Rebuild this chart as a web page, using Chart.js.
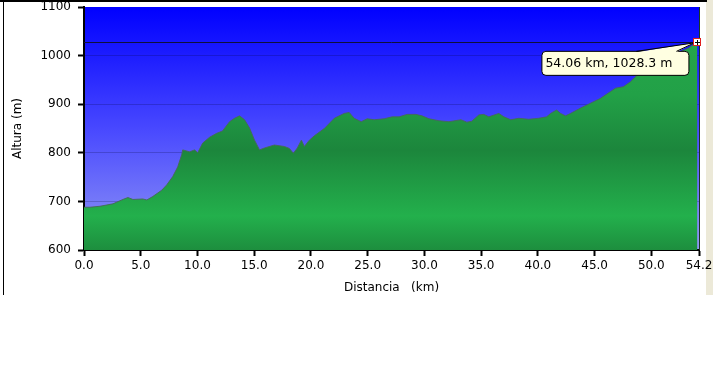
<!DOCTYPE html>
<html>
<head>
<meta charset="utf-8">
<script src="https://cdn.jsdelivr.net/npm/chart.js@4.4.1/dist/chart.umd.min.js"></script>
<style>
html, body { margin: 0; padding: 0; background: #fff; }
canvas { display: block; }
</style>
</head>
<body>
<canvas id="graph" width="713" height="384"></canvas>
<script>
// elevation profile
const distKm = [0.0, 0.53, 1.41, 2.55, 3.43, 3.87, 4.31, 5.18, 5.54, 6.06, 6.85, 7.29, 7.82, 8.26, 8.61, 8.70,
  9.31, 9.75, 10.02, 10.46, 11.07, 11.69, 12.21, 12.83, 13.27, 13.71, 14.15, 14.59, 15.03, 15.47, 15.91,
  16.78, 17.66, 18.10, 18.45, 18.80, 19.16, 19.42, 19.86, 20.30, 21.18, 22.06, 22.93, 23.37, 23.81, 24.43,
  24.96, 25.57, 26.45, 27.15, 27.77, 28.47, 29.26, 29.79, 30.40, 31.28, 32.16, 33.22, 33.74, 34.18, 34.80,
  35.24, 35.68, 36.56, 37.00, 37.61, 38.31, 39.19, 40.07, 40.77, 41.12, 41.65, 42.00, 42.44, 42.88, 43.76,
  44.64, 45.52, 46.40, 46.84, 47.54, 48.15, 48.68, 49.30, 50.62, 51.93, 53.25, 54.06]
const altM = [688, 688, 690, 695, 704, 708, 704, 705, 703, 710, 723, 734, 751, 771, 796, 806,
  802, 806, 800, 820, 832, 840, 845, 864, 871, 876, 868, 851, 826, 806, 810,
  816, 813, 809, 799, 810, 826, 813, 826, 835, 850, 871, 881, 883, 871, 864,
  870, 868, 870, 874, 874, 879, 879, 876, 870, 866, 864, 868, 863, 865, 878,
  879, 874, 881, 874, 868, 871, 869, 871, 874, 881, 888, 881, 876, 881, 892,
  902, 912, 926, 933, 936, 946, 958, 968, 988, 1002, 1015, 1028.3]
const xTicks = [0, 5, 10, 15, 20, 25, 30, 35, 40, 45, 50, 54.2]
const yTicks = [600, 700, 800, 900, 1000, 1100]

const FONT = 'DejaVu Sans'
const last = distKm.length - 1

// page frame + sky background behind the plot
const frame = {
  id: 'frame',
  beforeDraw(chart) {
    const c = chart.ctx, a = chart.chartArea
    c.save()
    c.fillStyle = '#ffffff'
    c.fillRect(0, 0, chart.width, chart.height)
    c.fillStyle = '#ece9d8'
    c.fillRect(706, 0, 7, 295)
    c.fillStyle = '#000'
    c.fillRect(0, 0, 707, 2)
    c.fillRect(3, 0, 1, 295)
    const g = c.createLinearGradient(0, a.top, 0, a.bottom)
    g.addColorStop(0, '#0000ff')
    g.addColorStop(0.5, '#4848ff')
    g.addColorStop(1, '#9298f4')
    c.fillStyle = g
    c.fillRect(a.left, a.top, a.right - a.left, a.bottom - a.top)
    c.restore()
  },
  afterDatasetsDraw(chart) {
    const c = chart.ctx, a = chart.chartArea
    const y = Math.round(chart.scales.y.getPixelForValue(altM[last])) + 0.5
    c.save()
    c.strokeStyle = '#10103a'
    c.lineWidth = 1
    c.beginPath()
    c.moveTo(a.left, y)
    c.lineTo(a.right, y)
    c.stroke()
    // right edge of the plot
    c.strokeStyle = '#1a3a22'
    c.beginPath()
    c.moveTo(a.right + 0.5, a.top)
    c.lineTo(a.right + 0.5, a.bottom)
    c.stroke()
    c.restore()
  },
  afterDraw(chart) {
    const c = chart.ctx
    const px = chart.scales.x.getPixelForValue(distKm[last])
    const py = chart.scales.y.getPixelForValue(altM[last])
    const label = `${distKm[last].toFixed(2)} km, ${altM[last].toFixed(1)} m`
    const L = px - 156, R = px - 9, T = py + 9, B = py + 33, r = 4
    c.save()
    c.fillStyle = '#ffffe1'
    c.strokeStyle = '#000'
    c.lineWidth = 1
    c.beginPath()
    c.roundRect(L + 0.5, T + 0.5, R - L, B - T, r)
    c.fill()
    c.stroke()
    // wedge pointing to the marker
    c.beginPath()
    c.moveTo(px - 61, T + 1.5)
    c.lineTo(px - 3, py + 1)
    c.lineTo(px - 21, T + 1.5)
    c.closePath()
    c.fill()
    c.beginPath()
    c.moveTo(px - 61, T + 0.5)
    c.lineTo(px - 3, py + 1)
    c.lineTo(px - 21, T + 0.5)
    c.stroke()
    c.fillStyle = '#000'
    c.font = `12.5px "${FONT}"`
    c.textBaseline = 'middle'
    c.fillText(label, L + 4, (T + B) / 2 + 1)
    // marker
    const mx = Math.round(px), my = Math.round(py)
    c.fillStyle = '#fff'
    c.fillRect(mx - 4, my - 4, 8, 8)
    c.strokeStyle = '#e02020'
    c.strokeRect(mx - 3.5, my - 3.5, 7, 7)
    c.strokeStyle = '#000'
    c.beginPath()
    c.moveTo(mx - 2, my + 0.5); c.lineTo(mx + 3, my + 0.5)
    c.moveTo(mx + 0.5, my - 2); c.lineTo(mx + 0.5, my + 3)
    c.stroke()
    c.restore()
  }
}

function greenFill(context) {
  const a = context.chart.chartArea
  if (!a) return '#22a548'
  const g = context.chart.ctx.createLinearGradient(0, a.top, 0, a.bottom)
  g.addColorStop(0, '#27a84d')
  g.addColorStop(0.36, '#22a147')
  g.addColorStop(0.59, '#1c863c')
  g.addColorStop(0.86, '#23b04c')
  g.addColorStop(1, '#1d8e3e')
  return g
}

const ctx = document.querySelector('#graph').getContext('2d')

new Chart(ctx, {
  type: 'line',
  data: {
    datasets: [{
      data: distKm.map((d, i) => ({ x: d, y: altM[i] })),
      borderColor: 'rgba(70,105,85,0.9)',
      borderWidth: 1,
      backgroundColor: greenFill,
      fill: 'start',
      pointRadius: 0,
      tension: 0
    }]
  },
  options: {
    responsive: false,
    animation: false,
    events: [],
    layout: { padding: { left: 0, top: 7, right: 14, bottom: 87 } },
    plugins: { legend: { display: false }, tooltip: { enabled: false } },
    scales: {
      x: {
        type: 'linear',
        min: 0,
        max: 54.2,
        afterFit: (s) => { s.height = 47; s.paddingLeft = 0; s.paddingRight = 0 },
        afterBuildTicks: (s) => { s.ticks = xTicks.map(v => ({ value: v })) },
        border: { color: '#000', width: 2 },
        grid: { drawOnChartArea: false, drawTicks: true, tickLength: 6, tickColor: '#000', tickWidth: 2 },
        ticks: {
          autoSkip: false, maxRotation: 0, padding: 3, color: '#000',
          font: { family: FONT, size: 12 },
          callback: (v) => Number(v).toFixed(1)
        },
        title: {
          display: true, text: 'Distancia   (km)', color: '#000',
          font: { family: FONT, size: 12 }, padding: { top: 0, bottom: 2 }
        }
      },
      y: {
        min: 600,
        max: 1100,
        z: 1,
        afterFit: (s) => { s.width = 84; s.paddingTop = 0; s.paddingBottom = 0 },
        afterBuildTicks: (s) => { s.ticks = yTicks.map(v => ({ value: v })) },
        border: { color: '#000', width: 2 },
        grid: {
          color: (c) => (c.tick && (c.tick.value === 600 || c.tick.value === 1100)) ? 'rgba(0,0,0,0)' : 'rgba(0,0,40,0.2)',
          lineWidth: 1,
          tickLength: 6, tickColor: '#000', tickWidth: 2
        },
        ticks: {
          padding: 7, color: '#000', font: { family: FONT, size: 12 },
          callback: (v) => String(v)
        },
        title: {
          display: true, text: 'Altura (m)', color: '#000',
          font: { family: FONT, size: 12 }, padding: { top: 11, bottom: 0 }
        }
      }
    }
  },
  plugins: [frame]
})
</script>
</body>
</html>
